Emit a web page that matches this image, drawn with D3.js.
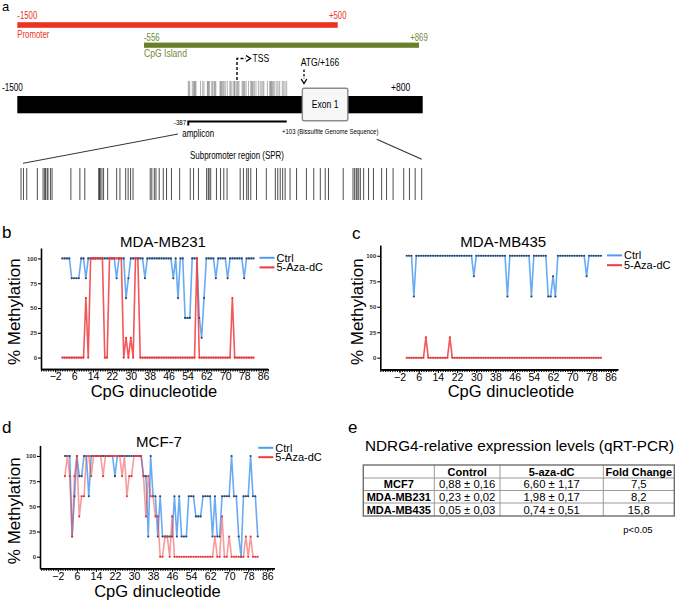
<!DOCTYPE html>
<html><head><meta charset="utf-8">
<script src="https://cdn.jsdelivr.net/npm/d3@7"></script>
<style>
body{margin:0;background:#fff}
svg{font-family:"Liberation Sans",Arial,Helvetica,sans-serif}
</style>
</head><body>
<svg id="fig" width="685" height="600"></svg>
<script>
// ---------------- DATA ----------------
const cpgIds = d3.range(1, 83);
const xTickLabels = [-2, 6, 14, 22, 30, 38, 46, 54, 62, 70, 78, 86];
const yTickLabels = [0, 25, 50, 75, 100];
const seriesNames = ['Ctrl', '5-Aza-dC'];

const mb231Ctrl = [100,100,100,100,80,80,80,80,100,100, 80,100,100,100,100,100,100,100,100,100,
  100,100,100,80,100,100,100,60,80,100, 100,100,100,100,100,80,100,100,100,100,
  100,100,100,100,100,100,100,80,100,60, 100,100,40,40,40,100,100,100,40,20,
  60,100,100,100,100,80,100,100,100,100, 80,100,100,100,100,100,100,80,100,100, 100,100];
const mb231Aza = [0,0,0,0,0,0,0,0,0,0, 60,0,100,100,100,100,100,100,0,0,
  100,100,100,100,100,100,0,20,0,20, 0,100,100,0,0,0,0,0,0,0,
  0,0,0,0,0,0,0,0,0,0, 0,0,0,0,0,0,0,100,0,0,
  0,0,0,0,0,0,0,0,0,0, 0,0,60,0,0,0,0,0,0,0, 0,0];
const mb435Ctrl = [100,100,100,60,100,100,100,100,100,100, 100,100,100,100,100,100,100,100,100,100,
  100,100,100,100,100,100,100,100,80,100, 100,100,100,100,100,100,100,100,100,100,
  100,100,60,100,100,100,100,100,100,100, 100,100,60,100,100,100,100,100,100,60,
  60,80,60,100,100,100,100,100,100,100, 100,100,100,100,100,80,100,100,100,100, 100,100];
const mb435Aza = [0,0,0,0,0,0,0,0,20,0, 0,0,0,0,0,0,0,0,20,0,
  0,0,0,0,0,0,0,0,0,0, 0,0,0,0,0,0,0,0,0,0,
  0,0,0,0,0,0,0,0,0,0, 0,0,0,0,0,0,0,0,0,0,
  0,0,0,0,0,0,0,0,0,0, 0,0,0,0,0,0,0,0,0,0, 0,0];
const mcf7Ctrl = [100,100,100,20,60,100,80,80,100,100, 60,100,100,100,100,100,100,100,100,100,
  100,80,100,100,100,100,100,100,100,100, 100,100,100,80,80,20,100,60,60,20,
  60,20,20,20,20,20,60,20,60,20, 20,20,60,60,60,40,40,40,60,60,
  60,60,20,60,20,20,60,60,60,60, 100,60,60,20,0,60,60,60,100,60, 60,20];
const mcf7Aza = [80,100,80,20,80,100,40,60,60,100, 100,80,100,100,100,100,80,100,100,100,
  100,100,100,100,80,100,60,80,80,100, 100,100,100,80,40,80,60,60,40,40,
  0,0,20,20,0,40,0,0,0,0, 0,0,0,0,0,0,0,0,0,0,
  0,0,0,20,0,0,40,0,0,20, 0,0,0,0,0,0,20,0,20,0, 0,0];

const tableHeader = ['', 'Control', '5-aza-dC', 'Fold Change'];
const tableLines = ['MCF7', 'MDA-MB231', 'MDA-MB435'];
const tableControl = ['0,88 \u00b1 0,16', '0,23 \u00b1 0,02', '0,05 \u00b1 0,03'];
const tableAza = ['6,60 \u00b1 1,17', '1,98 \u00b1 0,17', '0,74 \u00b1 0,51'];
const tableFold = ['7,5', '8,2', '15,8'];

const geneTracks = [{label: 'Promoter', start: -1500, end: 500}, {label: 'CpG Island', start: -556, end: 869}];
const geneMapBounds = [-1500, 800];
const ampliconBounds = [-387, 103];
const tssPos = 0, atgPos = 166;
const exonBounds = [160, 400];
const sprCpGs = [-387,-384,-380,-367,-360,-358,-357,-355,-354,-351, -349,-326,-315,-309,-292,-291,-290,-288,-286,-281,
  -270,-266,-259,-256,-253,-250,-229,-227,-224,-222, -218,-213,-209,-203,-193,-180,-176,-170,-160,-158,
  -157,-155,-148,-143,-139,-135,-119,-115,-111,-109, -106,-99,-87,-76,-73,-70,-67,-64,-58,-50,
  -38,-29,-21,-15,-11,7,19,21,23,24, 26,28,32,38,44,54,60,68,81,88, 95,103];

// ---------------- STYLE ----------------
const C = {red: '#ea3323', green: '#6a7f2c', greenText: '#6f8a38', blue: '#4e9cf2', lred: '#f03a3c',
  blueDot: '#2f4260', redDot: '#e2343a'};
const svg = d3.select('#fig');
const fmtSigned = v => (v > 0 ? '+' : '') + v;

function ctext(g, x, y, s, size, opts = {}) {
  const t = g.append('text')
    .attr('transform', `translate(${x},${y}) scale(${opts.sx || 0.78},1)`)
    .attr('font-size', size).attr('text-anchor', opts.anchor || 'start')
    .attr('fill', opts.fill || '#000').text(s);
  if (opts.weight) t.attr('font-weight', opts.weight);
  return t;
}

// ---------------- PANEL A ----------------
const ga = svg.append('g');
ga.append('text').attr('x', 2).attr('y', 11).attr('font-size', 13).text('a');

const trackLayout = [{y: 22.2, h: 5.6, range: [17.3, 337.7], color: C.red, text: C.red, labY: 19, nameY: 38.3},
                     {y: 42.6, h: 5.2, range: [144, 419], color: C.green, text: C.greenText, labY: 41, nameY: 57.3}];
geneTracks.forEach((t, i) => {
  const L = trackLayout[i];
  const s = d3.scaleLinear().domain([t.start, t.end]).range(L.range);
  ga.append('rect').attr('x', s(t.start)).attr('y', L.y).attr('width', s(t.end) - s(t.start)).attr('height', L.h).attr('fill', L.color);
  ctext(ga, s(t.start), L.labY, fmtSigned(t.start), 10, {fill: L.text});
  ctext(ga, s(t.end), L.labY, fmtSigned(t.end), 10, {fill: L.text, anchor: 'middle'});
  ctext(ga, s(t.start), L.nameY, t.label, i === 0 ? 10 : 11, {fill: L.text});
});

const geneScale = d3.scaleLinear()
  .domain([geneMapBounds[0], ampliconBounds[0], tssPos, ampliconBounds[1], atgPos, geneMapBounds[1]])
  .range([17.3, 188.3, 237, 286.7, 304, 422.7]);
const ampScale = d3.scaleLinear().domain(ampliconBounds).range([geneScale(ampliconBounds[0]), geneScale(ampliconBounds[1])]);

// CpG sites above gene bar
ga.append('g').selectAll('line').data(sprCpGs).join('line')
  .attr('x1', d => ampScale(d)).attr('x2', d => ampScale(d)).attr('y1', 81).attr('y2', 96)
  .attr('stroke', '#9a9a9a').attr('stroke-width', 0.8);
// gene bar
ga.append('rect').attr('x', geneScale(geneMapBounds[0])).attr('y', 96).attr('width', geneScale(geneMapBounds[1]) - geneScale(geneMapBounds[0])).attr('height', 17.3).attr('fill', '#000');
ctext(ga, 2, 91, fmtSigned(geneMapBounds[0]), 10.5);
ctext(ga, 391, 91, fmtSigned(geneMapBounds[1]), 11);
// exon
ga.append('rect').attr('x', geneScale(exonBounds[0])).attr('y', 88.3).attr('width', geneScale(exonBounds[1]) - geneScale(exonBounds[0])).attr('height', 32.4)
  .attr('fill', '#f7f7f7').attr('stroke', '#8c8c8c').attr('stroke-width', 1.4).attr('rx', 1.5);
ctext(ga, (geneScale(exonBounds[0]) + geneScale(exonBounds[1])) / 2, 108, 'Exon 1', 11, {anchor: 'middle'});
// TSS arrow
const tx = geneScale(tssPos);
ga.append('path').attr('d', `M${tx},80V58.5H${tx + 9}`).attr('fill', 'none').attr('stroke', '#000').attr('stroke-width', 1.4).attr('stroke-dasharray', '3,2');
ga.append('path').attr('d', `M${tx + 9},55.5L${tx + 13.5},58.5L${tx + 9},61.5`).attr('fill', 'none').attr('stroke', '#000').attr('stroke-width', 1.4);
ctext(ga, tx + 15.5, 62.3, 'TSS', 11);
// ATG arrow
const axp = geneScale(atgPos);
ga.append('path').attr('d', `M${axp},69.5V79`).attr('stroke', '#000').attr('stroke-width', 1.3).attr('stroke-dasharray', '2.5,2');
ga.append('path').attr('d', `M${axp - 2.8},79L${axp},83.5L${axp + 2.8},79`).attr('fill', 'none').attr('stroke', '#000').attr('stroke-width', 1.3);
ctext(ga, 320, 65.5, 'ATG/' + fmtSigned(atgPos), 11, {anchor: 'middle'});
// amplicon bracket
const a0 = ampScale(ampliconBounds[0]), a1 = ampScale(ampliconBounds[1]);
ga.append('path').attr('d', `M${a0},125.5V121.5H${a1}`).attr('fill', 'none').attr('stroke', '#000').attr('stroke-width', 2);
ctext(ga, a0 - 2, 124.5, String(ampliconBounds[0]), 8, {anchor: 'end'});
ctext(ga, a0 - 6, 136.5, 'amplicon', 10.2);
ctext(ga, 282, 134, fmtSigned(ampliconBounds[1]) + ' (Bissulfite Genome Sequence)', 7.7);
// SPR zoom
const sprScale = d3.scaleLinear().domain(ampliconBounds).range([21, 421.7]);
ga.append('line').attr('x1', 178).attr('y1', 134).attr('x2', sprScale(ampliconBounds[0]) + 2).attr('y2', 163.3).attr('stroke', '#333').attr('stroke-width', 1);
ga.append('line').attr('x1', 376.7).attr('y1', 139.3).attr('x2', sprScale(ampliconBounds[1])).attr('y2', 159.3).attr('stroke', '#333').attr('stroke-width', 1.1);
ctext(ga, 237, 158.6, 'Subpromoter region (SPR)', 10.2, {anchor: 'middle'});
ga.append('g').selectAll('line').data(sprCpGs).join('line')
  .attr('x1', d => sprScale(d)).attr('x2', d => sprScale(d)).attr('y1', 168).attr('y2', 200)
  .attr('stroke', '#3a3a3a').attr('stroke-width', 0.9);

// ---------------- METHYLATION CHARTS ----------------
function drawChart(cfg) {
  const g = svg.append('g');
  const x = d3.scaleLinear().domain(cfg.xDomain).range(cfg.xRange);
  const y = d3.scaleLinear().domain([-11.5, 110.5]).range(cfg.yRange);
  const x0 = cfg.xRange[0], y0 = cfg.yRange[0];

  g.append('text').attr('x', cfg.letter[1]).attr('y', cfg.letter[2]).attr('font-size', 17).text(cfg.letter[0]);
  g.append('text').attr('x', cfg.titlePos[0]).attr('y', cfg.titlePos[1]).attr('font-size', 15).attr('text-anchor', 'middle').text(cfg.title);

  const minor = g.append('g').attr('transform', `translate(0,${y0})`)
    .call(d3.axisBottom(x).tickValues(d3.range(Math.ceil(cfg.xDomain[0]), 89)).tickSize(2.5).tickSizeOuter(0).tickFormat(''));
  minor.selectAll('text').remove();
  const major = g.append('g').attr('transform', `translate(0,${y0})`)
    .call(d3.axisBottom(x).tickValues(xTickLabels).tickSize(3.5).tickSizeOuter(0).tickPadding(0.5));
  major.selectAll('text').attr('font-size', 10.5).attr('fill', '#000').attr('font-family', '"Liberation Sans",Arial,sans-serif');
  const yax = g.append('g').attr('transform', `translate(${x0},0)`)
    .call(d3.axisLeft(y).tickValues(yTickLabels).tickSize(3).tickSizeOuter(0).tickPadding(1));
  yax.selectAll('text').attr('font-size', 6).attr('font-weight', 'bold').attr('fill', '#333').attr('font-family', '"Liberation Sans",Arial,sans-serif');
  [minor, major, yax].forEach(a => { a.select('.domain').attr('stroke-width', 1.6); a.selectAll('.tick line').attr('stroke-width', 1.1); });

  g.append('text').attr('transform', `translate(${cfg.yTitle[0]},${cfg.yTitle[1]}) rotate(-90)`)
    .attr('font-size', 17).attr('text-anchor', 'middle').text('% Methylation');
  g.append('text').attr('x', cfg.xTitle[0]).attr('y', cfg.xTitle[1]).attr('font-size', 16.5).attr('text-anchor', 'middle').text('CpG dinucleotide');

  const line = d3.line().x((d, i) => x(cpgIds[i])).y(d => y(d));
  const series = [{v: cfg.ctrl, c: C.blue, dot: C.blueDot, op: 0.85}, {v: cfg.aza, c: C.lred, dot: C.redDot, op: cfg.redOp}];
  series.forEach(s => {
    g.append('path').attr('d', line(s.v)).attr('fill', 'none').attr('stroke', s.c).attr('stroke-width', 1.6)
      .attr('stroke-opacity', s.op).attr('stroke-linejoin', 'round');
    g.append('g').selectAll('circle').data(s.v).join('circle')
      .attr('cx', (d, i) => x(cpgIds[i])).attr('cy', d => y(d)).attr('r', 1.05).attr('fill', s.dot);
  });

  const lg = g.append('g').attr('transform', `translate(${cfg.legend[0]},${cfg.legend[1]})`);
  seriesNames.forEach((n, i) => {
    lg.append('line').attr('x1', 0).attr('x2', 15).attr('y1', i * cfg.legend[2]).attr('y2', i * cfg.legend[2])
      .attr('stroke', i === 0 ? C.blue : C.lred).attr('stroke-width', 2);
    lg.append('text').attr('x', 17).attr('y', i * cfg.legend[2] + 3.8).attr('font-size', 11).text(n);
  });
}

drawChart({letter: ['b', 2, 238], title: 'MDA-MB231', titlePos: [163, 246.7], ctrl: mb231Ctrl, aza: mb231Aza, redOp: 0.85,
  xDomain: [-8, 88], xRange: [41, 267.8], yRange: [369, 248], yTitle: [20, 311.7], xTitle: [154, 397], legend: [259.5, 257.8, 9.6]});
drawChart({letter: ['c', 352, 239], title: 'MDA-MB435', titlePos: [503.3, 246.7], ctrl: mb435Ctrl, aza: mb435Aza, redOp: 0.85,
  xDomain: [-10, 89], xRange: [380.3, 617.8], yRange: [369.4, 245.1], yTitle: [363, 311.7], xTitle: [511, 397], legend: [607, 255.4, 9.8]});
drawChart({letter: ['d', 2, 433], title: 'MCF-7', titlePos: [159, 446.7], ctrl: mcf7Ctrl, aza: mcf7Aza, redOp: 0.5,
  xDomain: [-9.5, 89], xRange: [40, 274.4], yRange: [568.3, 445.4], yTitle: [20, 510.8], xTitle: [157.5, 596.5], legend: [258.3, 447.8, 9.4]});

// ---------------- PANEL E TABLE ----------------
const ge = svg.append('g');
ge.append('text').attr('x', 348).attr('y', 433).attr('font-size', 17).text('e');
ge.append('text').attr('x', 365).attr('y', 450.5).attr('font-size', 15.3).text('NDRG4-relative expression levels (qRT-PCR)');
const colEdges = [363.3, 434.3, 500, 603.3, 674.3];
const rowEdges = [465, 478, 490.5, 503, 516];
colEdges.slice(1, -1).forEach(cx => ge.append('line').attr('x1', cx).attr('x2', cx).attr('y1', rowEdges[0]).attr('y2', rowEdges[4]).attr('stroke', '#9a9a9a').attr('stroke-width', 1));
rowEdges.slice(1, -1).forEach(ry => ge.append('line').attr('x1', colEdges[0]).attr('x2', colEdges[4]).attr('y1', ry).attr('y2', ry).attr('stroke', '#9a9a9a').attr('stroke-width', 1));
ge.append('rect').attr('x', colEdges[0]).attr('y', rowEdges[0]).attr('width', colEdges[4] - colEdges[0]).attr('height', rowEdges[4] - rowEdges[0])
  .attr('fill', 'none').attr('stroke', '#6e6e6e').attr('stroke-width', 1.4);
const colMid = i => (colEdges[i] + colEdges[i + 1]) / 2;
const rowMid = i => (rowEdges[i] + rowEdges[i + 1]) / 2;
tableHeader.forEach((h, i) => ge.append('text').attr('x', colMid(i)).attr('y', rowMid(0) + 4).attr('text-anchor', 'middle')
  .attr('font-size', 11).attr('font-weight', 'bold').text(h));
tableLines.forEach((r, j) => {
  const yy = rowMid(j + 1) + 4;
  ge.append('text').attr('x', colMid(0)).attr('y', yy).attr('text-anchor', 'middle').attr('font-size', 11).attr('font-weight', 'bold').text(r);
  [tableControl[j], tableAza[j], tableFold[j]].forEach((v, k) =>
    ge.append('text').attr('x', colMid(k + 1)).attr('y', yy).attr('text-anchor', 'middle').attr('font-size', 11.3).text(v));
});
ge.append('text').attr('x', 638).attr('y', 533).attr('text-anchor', 'middle').attr('font-size', 9.5).text('p<0.05');
</script>
</body></html>
